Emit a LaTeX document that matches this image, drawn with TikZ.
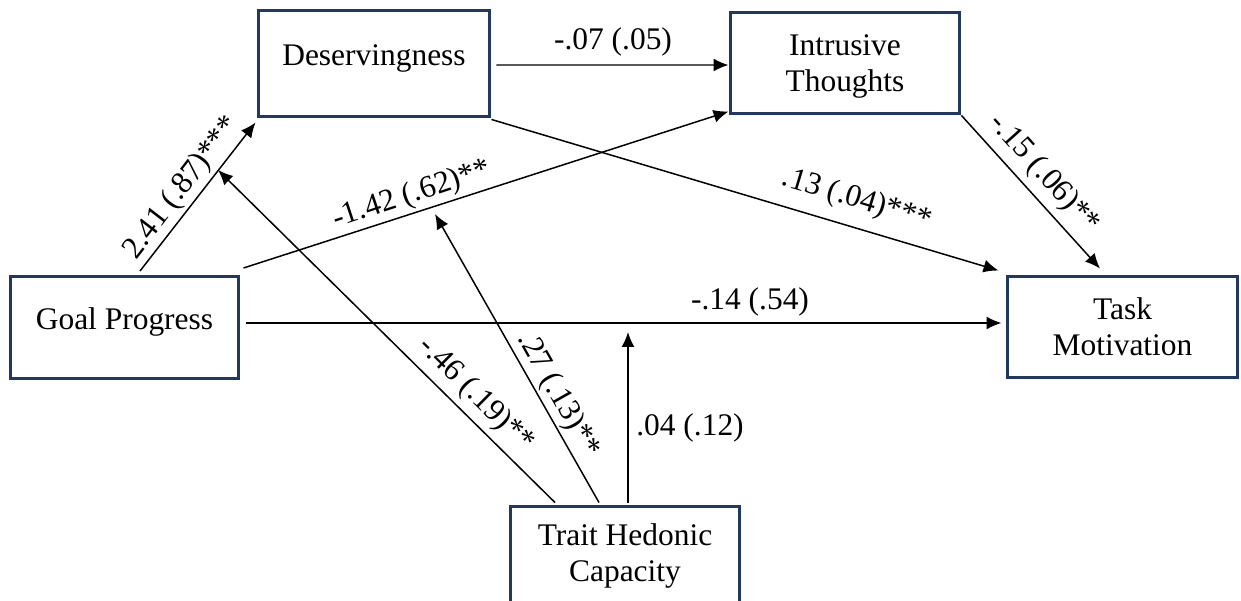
\documentclass[tikz,border=0pt]{standalone}
\usepackage{fontspec}
\setmainfont{Liberation Serif}
\usetikzlibrary{arrows.meta,calc}
\definecolor{navy}{HTML}{203864}
\begin{document}
\begin{tikzpicture}[x=0.02cm,y=-0.02cm,
  box/.style={draw=navy,line width=1.7pt,minimum width=4.6cm,minimum height=2.04cm,inner sep=0pt,align=center,font=\fontsize{17.9}{20.5}\selectfont},
  lab/.style={inner sep=0pt,font=\fontsize{17.9}{20.5}\selectfont},
  arr/.style={line width=0.85pt,-{Latex[length=0.3cm,width=0.26cm]}}]
\useasboundingbox (0,0) rectangle (1241,601);
\node[box,minimum width=4.64cm,minimum height=2.12cm] (des) at (374,63.5) {\raisebox{0.32cm}{Deservingness}};
\node[box] (int) at (845,63) {\raisebox{0pt}[\dimexpr\height+0.12cm\relax]{Intrusive}\\Thoughts};
\node[box,minimum width=4.58cm] (gp) at (124.5,327.5) {\raisebox{0.36cm}{Goal Progress}};
\node[box,minimum width=4.62cm] (tm) at (1122.5,327) {Task\\Motivation};
\node[box,minimum height=2cm] (thc) at (625,556) {Trait Hedonic\\Capacity};
\coordinate (m1) at (218,170);
\coordinate (m2) at (435,214);
\coordinate (m3) at (628,332);
\draw[arr] ($(des.east)+(5,1.5)$) -- ($(int.west)+(0,2)$);
\draw[arr] ($(gp.north)+(15.5,-4)$) -- ($(des.south west)+(-1,4.5)$);
\draw[arr] ($(gp.north east)+(3,-7)$) -- ($(int.south west)+(0,-4)$);
\draw[arr] ($(des.south east)+(0,1.5)$) -- ($(tm.north west)+(-7,-4)$);
\draw[arr] (int.south east) -- ($(tm.north)+(-22.5,-6)$);
\draw[arr] ($(gp.east)+(6,-4.5)$) -- ($(tm.west)+(-4,-4)$);
\draw[arr] ($(thc.north)+(-70,-2)$) -- (m1);
\draw[arr] ($(thc.north)+(-26,-2)$) -- (m2);
\draw[arr] ($(thc.north)+(3,-2)$) -- (m3);
\node[lab] (l1) at (613,42) {-.07 (.05)};
\node[lab,rotate=52.4] (l2) at (182,188) {2.41 (.87)***};
\node[lab,rotate=18.3] (l3) at (412,195) {-1.42 (.62)**};
\node[lab,rotate=-16.8] (l4) at (857,200) {.13 (.04)***};
\node[lab,rotate=-48] (l5) at (1044,174) {-.15 (.06)**};
\node[lab] (l6) at (750,302) {-.14 (.54)};
\node[lab,rotate=-44.7] (l7) at (476,395) {-.46 (.19)**};
\node[lab,rotate=-60.5] (l8) at (558,395) {.27 (.13)**};
\node[lab] (l9) at (690,428) {.04 (.12)};
\end{tikzpicture}
\end{document}
